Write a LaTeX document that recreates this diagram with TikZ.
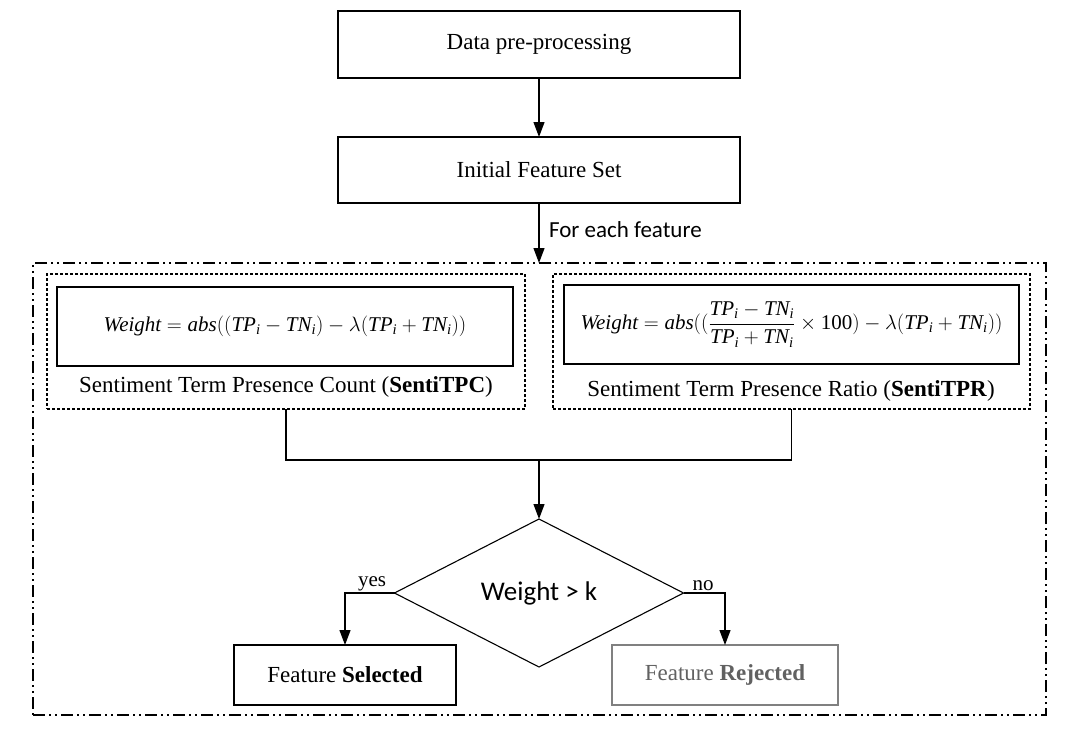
\documentclass[tikz,border=0pt]{standalone}
\usepackage{amsmath}
\usepackage{fontspec}
\setmainfont{Liberation Serif}
\newfontfamily\carl{Carlito}
\usetikzlibrary{shapes.geometric,arrows.meta}
\newcommand{\mi}[1]{\textit{#1}}
\begin{document}
\begin{tikzpicture}[x=1pt,y=-1pt,
  every node/.style={inner sep=0pt,outer sep=0pt},
  box/.style={draw,line width=1.1pt,font=\fontsize{23}{27}\selectfont},
  fbox/.style={draw,line width=1.1pt,font=\fontsize{21}{25}\selectfont},
  dotbox/.style={draw,line width=1.3pt,dash pattern=on 3pt off 2pt},
  frame/.style={draw,line width=1.3pt,dash pattern=on 12pt off 4pt on 2pt off 4pt on 2pt off 4pt},
  lab/.style={font=\fontsize{23}{27}\selectfont},
  conn/.style={line width=1.2pt},
  arr/.style={line width=1.2pt,-{Triangle[length=15pt,width=11pt]}}
]
\useasboundingbox (0,0) rectangle (1082,731);
\node[box,minimum width=402pt,minimum height=67pt] (dp) at (539,44.5) {Data pre-processing};
\node[box,minimum width=402pt,minimum height=66pt] (ifs) at (539,170) {Initial Feature Set};
\node[frame,minimum width=1013pt,minimum height=452pt] (outer) at (539.5,489) {};
\node[anchor=west,font=\carl\fontsize{23}{26}\selectfont] (fef) at (549,230) {For each feature};

\node[dotbox,minimum width=478pt,minimum height=135pt] (lbox) at (286,341.5) {};
\node[fbox,minimum width=456pt,minimum height=79pt] (lform) at (285,326.5)
  {$\mi{Weight}=\mi{abs}((\mi{TP}_{\mi{i}}-\mi{TN}_{\mi{i}})-\lambda(\mi{TP}_{\mi{i}}+\mi{TN}_{\mi{i}}))$};
\node[lab] (llab) at (286,387) {Sentiment Term Presence Count (\textbf{SentiTPC})};

\node[dotbox,minimum width=477pt,minimum height=135pt] (rbox) at (791.5,341.5) {};
\node[fbox,minimum width=455pt,minimum height=79pt] (rform) at (791.5,324.5)
  {$\mi{Weight}=\mi{abs}((\dfrac{\mi{TP}_{\mi{i}}-\mi{TN}_{\mi{i}}}{\mi{TP}_{\mi{i}}+\mi{TN}_{\mi{i}}}\times\text{100})-\lambda(\mi{TP}_{\mi{i}}+\mi{TN}_{\mi{i}}))$};
\node[lab] (rlab) at (791,391) {Sentiment Term Presence Ratio (\textbf{SentiTPR})};

\coordinate (m) at (539,460);
\node[diamond,draw,line width=1.1pt,aspect=2,minimum width=289pt,minimum height=148pt,font=\carl\fontsize{27}{30}\selectfont] (dia) at (539,593) {Weight > k};

\node[box,minimum width=222pt,minimum height=60pt] (sel) at (345,675) {Feature \textbf{Selected}};
\node[box,draw=black!50,text=black!62,minimum width=226pt,minimum height=60pt] (rej) at (725,675) {Feature \textbf{Rejected}};

\draw[arr] (dp.south) -- (ifs.north);
\draw[arr] (ifs.south) -- (ifs.south |- outer.north);
\draw[conn] (lbox.south) |- (m) -| (rbox.south);
\draw[arr] (m) -- (dia.north);
\draw[arr] (dia.west) -| (sel.north);
\draw[arr] (dia.east) -| (rej.north);
\node[font=\fontsize{21}{25}\selectfont,anchor=south] (yes) at (372,591) {yes};
\node[font=\fontsize{21}{25}\selectfont,anchor=south] (no) at (703,591) {no};
\end{tikzpicture}
\end{document}
